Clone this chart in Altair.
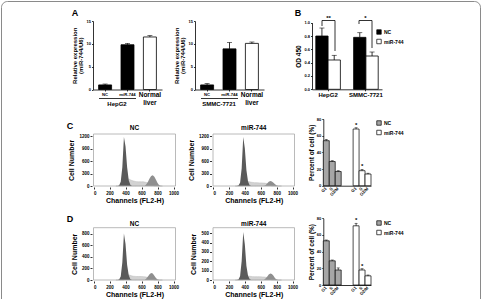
import altair as alt
import pandas as pd

W, H = 483, 299
FONT = "Liberation Sans"

# ---------------- Panel A: relative expression ----------------
a_groups = ["NC", "miR-744", "Normal"]
a_hepg2_mean = [1.0, 9.8, 11.5]
a_hepg2_err = [0.2, 0.3, 0.3]
a_smmc_mean = [1.0, 8.9, 10.1]
a_smmc_err = [0.3, 1.4, 0.3]
a_cells = ["HepG2", "SMMC-7721"]

# ---------------- Panel B: OD 450 ----------------
b_cells = ["HepG2", "SMMC-7721"]
b_treat = ["NC", "miR-744"]
b_nc_mean = [0.80, 0.78]
b_nc_err = [0.12, 0.07]
b_mir_mean = [0.44, 0.50]
b_mir_err = [0.07, 0.06]
b_sig = ["**", "*"]

# ---------------- Panels C / D: cell-cycle bars ----------------
phases = ["G1", "S", "G2/M"]
c_nc_mean = [54, 29, 17]
c_nc_err = [1.5, 1.0, 1.0]
c_mir_mean = [68, 18, 14]
c_mir_err = [1.5, 1.5, 1.0]
c_mir_sig = ["*", "*", ""]
d_nc_mean = [53, 29, 18]
d_nc_err = [1.0, 1.0, 2.5]
d_mir_mean = [71, 18, 11]
d_mir_err = [3.0, 1.5, 1.0]
d_mir_sig = ["*", "*", ""]

# ---------------- flow-cytometry histograms ----------------
channels = [280, 300, 320, 340, 360, 380, 400, 420, 440, 460, 480, 500, 520, 540, 560,
            580, 600, 620, 640, 660, 680, 700, 720, 740, 760, 780, 800, 820, 840, 860]
c_nc_g1 = [0, 0, 15, 100, 450, 1180, 950, 450, 140, 30, 0, 0, 0, 0, 0,
           0, 0, 0, 0, 0, 0, 0, 0, 0, 0, 0, 0, 0, 0, 0]
c_nc_s = [0, 0, 0, 0, 0, 0, 60, 150, 170, 150, 130, 120, 110, 105, 100,
          100, 100, 100, 95, 85, 70, 50, 30, 15, 0, 0, 0, 0, 0, 0]
c_nc_g2 = [0, 0, 0, 0, 0, 0, 0, 0, 0, 0, 0, 0, 0, 0, 0,
           0, 0, 0, 0, 40, 100, 180, 240, 260, 220, 150, 70, 20, 0, 0]
c_mir_g1 = [0, 0, 10, 80, 420, 1180, 900, 380, 110, 20, 0, 0, 0, 0, 0,
            0, 0, 0, 0, 0, 0, 0, 0, 0, 0, 0, 0, 0, 0, 0]
c_mir_s = [0, 0, 0, 0, 0, 0, 40, 110, 110, 100, 90, 85, 80, 80, 78,
           75, 75, 72, 70, 65, 60, 40, 20, 0, 0, 0, 0, 0, 0, 0]
c_mir_g2 = [0, 0, 0, 0, 0, 0, 0, 0, 0, 0, 0, 0, 0, 0, 0,
            0, 0, 0, 0, 20, 60, 100, 120, 110, 80, 40, 10, 0, 0, 0]
d_nc_g1 = [0, 0, 10, 60, 300, 800, 620, 260, 80, 15, 0, 0, 0, 0, 0,
           0, 0, 0, 0, 0, 0, 0, 0, 0, 0, 0, 0, 0, 0, 0]
d_nc_s = [0, 0, 0, 0, 0, 0, 30, 80, 90, 80, 70, 65, 62, 60, 60,
          60, 60, 58, 55, 50, 45, 35, 20, 10, 0, 0, 0, 0, 0, 0]
d_nc_g2 = [0, 0, 0, 0, 0, 0, 0, 0, 0, 0, 0, 0, 0, 0, 0,
           0, 0, 0, 0, 25, 60, 100, 120, 110, 75, 35, 10, 0, 0, 0]
d_mir_g1 = [0, 0, 5, 40, 200, 515, 380, 150, 45, 10, 0, 0, 0, 0, 0,
            0, 0, 0, 0, 0, 0, 0, 0, 0, 0, 0, 0, 0, 0, 0]
d_mir_s = [0, 0, 0, 0, 0, 0, 20, 45, 45, 40, 38, 36, 35, 35, 35,
           35, 34, 33, 32, 30, 28, 20, 10, 0, 0, 0, 0, 0, 0, 0]
d_mir_g2 = [0, 0, 0, 0, 0, 0, 0, 0, 0, 0, 0, 0, 0, 0, 0,
            0, 0, 0, 0, 15, 35, 60, 70, 65, 45, 20, 5, 0, 0, 0]
flow_xticks = [0, 200, 400, 600, 800, 1000]

EMPTY = alt.Data(values=[{}])


def axis_style(**kw):
    base = dict(grid=False, domainColor="black", tickColor="black", labelColor="black",
                titleColor="black", domainWidth=0.8, tickWidth=0.8, labelFont=FONT,
                titleFont=FONT, labelFontSize=4.5, labelFontWeight="bold",
                titleFontWeight="bold", labelOverlap=False, labelPadding=1, tickSize=2,
                labelAngle=0)
    base.update(kw)
    return alt.Axis(**base)


def txt(s, x, y, size=6.0, weight="bold", align="center", baseline="middle", angle=None,
        color="black", lh=None):
    kw = dict(text=s, fontSize=size, fontWeight=weight, font=FONT, align=align,
              baseline=baseline, color=color)
    if angle is not None:
        kw["angle"] = angle
    if lh is not None:
        kw["lineHeight"] = lh
    return alt.Chart(EMPTY).mark_text(**kw).encode(x=alt.value(x), y=alt.value(y))


def hrule(x1, x2, y, w=0.8):
    return alt.Chart(EMPTY).mark_rule(color="black", strokeWidth=w).encode(
        x=alt.value(x1), x2=alt.value(x2), y=alt.value(y))


def vrule(x, y1, y2, w=0.8):
    return alt.Chart(EMPTY).mark_rule(color="black", strokeWidth=w).encode(
        x=alt.value(x), y=alt.value(y1), y2=alt.value(y2))


# ---------------- Panel A ----------------
def panel_a(means, errs, x0, cell):
    y0, y1 = 89.5, 21
    df = pd.DataFrame({"grp": a_groups, "mean": means,
                       "top": [m + e for m, e in zip(means, errs)]})
    xsc = alt.Scale(domain=a_groups, range=[x0, x0 + 69], paddingInner=0.42, paddingOuter=0.25)
    xax = axis_style(orient="bottom", offset=y0 - H, labels=False, title=None, tickSize=1.5)
    ysc = alt.Scale(domain=[0, 15], range=[y0, y1], nice=False, zero=True)
    yax = axis_style(orient="left", offset=-x0, values=[0, 5, 10, 15],
                     title=["Relative expression", "(miR-744/U6)"], titleFontSize=6,
                     titlePadding=3, titleLineHeight=6, tickSize=1.5, labelFontSize=4)
    X = alt.X("grp:N", scale=xsc, axis=xax, sort=a_groups)
    base = alt.Chart(df)
    bars = base.mark_bar(stroke="black", strokeWidth=0.8).encode(
        x=X, y=alt.Y("mean:Q", scale=ysc, axis=yax),
        fill=alt.when(alt.datum.grp == "Normal").then(alt.value("white")).otherwise(alt.value("black")))
    err = base.mark_rule(color="black", strokeWidth=0.8).encode(
        x=X, y=alt.Y("mean:Q", scale=ysc, axis=yax), y2="top:Q")
    cap = base.mark_tick(color="black", size=5, thickness=0.8).encode(
        x=X, y=alt.Y("top:Q", scale=ysc, axis=yax))
    small = alt.Chart(pd.DataFrame({"grp": a_groups[:2]})).mark_text(
        font=FONT, fontSize=4.2, fontWeight="bold", color="black").encode(
        x=X, y=alt.value(95), text="grp:N")
    normal = alt.Chart(pd.DataFrame({"grp": a_groups[2:]})).mark_text(
        font=FONT, fontSize=6.5, fontWeight="bold", color="black", text=["Normal", "liver"],
        lineHeight=8, baseline="top").encode(x=X, y=alt.value(91.5))
    main = alt.layer(bars, err, cap, small, normal)
    return [main, hrule(x0 + 6, x0 + 43, 98.5), txt(cell, x0 + 24, 103.5, size=6)]


# ---------------- Panel B ----------------
def panel_b():
    x0, x1, y0, y1 = 312, 382, 89.3, 22.7
    rows = []
    for i, c in enumerate(b_cells):
        rows.append({"cell": c, "treat": "NC", "mean": b_nc_mean[i], "top": b_nc_mean[i] + b_nc_err[i]})
        rows.append({"cell": c, "treat": "miR-744", "mean": b_mir_mean[i], "top": b_mir_mean[i] + b_mir_err[i]})
    df = pd.DataFrame(rows)
    xsc = alt.Scale(domain=b_cells, range=[x0, x1], paddingInner=0.35, paddingOuter=0.1)
    xax = axis_style(orient="bottom", offset=y0 - H, title=None, labelFontSize=6,
                     tickSize=1.5, labelPadding=0.5)
    ysc = alt.Scale(domain=[0, 1.0], range=[y0, y1], nice=False, zero=True)
    yax = axis_style(orient="left", offset=-x0, values=[0, 0.2, 0.4, 0.6, 0.8, 1.0], format=".1f",
                     title="OD 450", titleFontSize=6.5, titlePadding=2, tickSize=1.5, labelFontSize=4)
    X = alt.X("cell:N", scale=xsc, axis=xax, sort=b_cells)
    XO = alt.XOffset("treat:N", scale=alt.Scale(domain=b_treat), sort=b_treat)
    base = alt.Chart(df)
    bars = base.mark_bar(stroke="black", strokeWidth=0.8).encode(
        x=X, xOffset=XO, y=alt.Y("mean:Q", scale=ysc, axis=yax),
        color=alt.Color("treat:N", scale=alt.Scale(domain=b_treat, range=["black", "white"]),
                        legend=alt.Legend(orient="none", legendX=376, legendY=29, title=None,
                                          symbolType="square", symbolSize=20,
                                          symbolStrokeColor="black", symbolStrokeWidth=0.7,
                                          labelFont=FONT, labelFontSize=5, labelFontWeight="bold",
                                          labelOffset=2, rowPadding=1.5, padding=0)))
    err = base.mark_rule(color="black", strokeWidth=0.8).encode(
        x=X, xOffset=XO, y=alt.Y("mean:Q", scale=ysc, axis=yax), y2="top:Q")
    cap = base.mark_tick(color="black", size=5, thickness=0.8).encode(
        x=X, xOffset=XO, y=alt.Y("top:Q", scale=ysc, axis=yax))
    main = alt.layer(bars, err, cap)
    ann = [
        hrule(322, 335, 20.5), vrule(322, 20.5, 26), vrule(335, 20.5, 51),
        txt(b_sig[0], 328.5, 18, size=6),
        hrule(359, 372, 20.5), vrule(359, 20.5, 24), vrule(372, 20.5, 48),
        txt(b_sig[1], 365.5, 18, size=6),
    ]
    return [main] + ann


# ---------------- Panels C / D bars ----------------
def panel_cycle(nc_mean, nc_err, mir_mean, mir_err, mir_sig, y0, y1, legend_y):
    x0, x1 = 323.3, 371
    rows = []
    for i, p in enumerate(phases):
        rows.append({"treat": "NC", "phase": p, "mean": nc_mean[i], "top": nc_mean[i] + nc_err[i], "sig": ""})
    for i, p in enumerate(phases):
        rows.append({"treat": "miR-744", "phase": p, "mean": mir_mean[i], "top": mir_mean[i] + mir_err[i], "sig": mir_sig[i]})
    df = pd.DataFrame(rows)
    xsc = alt.Scale(domain=b_treat, range=[x0, x1], paddingInner=0.4, paddingOuter=0.0)
    xax = axis_style(orient="bottom", offset=y0 - H, title=None, labels=False, ticks=False)
    ysc = alt.Scale(domain=[0, 80], range=[y0, y1], nice=False, zero=True)
    yax = axis_style(orient="left", offset=-x0, values=[0, 20, 40, 60, 80],
                     title="Percent of cell (%)", titleFontSize=6.5, titlePadding=2,
                     tickSize=1.5, labelFontSize=4)
    X = alt.X("treat:N", scale=xsc, axis=xax, sort=b_treat)
    XO = alt.XOffset("phase:N", scale=alt.Scale(domain=phases), sort=phases)
    base = alt.Chart(df)
    bars = base.mark_bar(stroke="black", strokeWidth=0.7).encode(
        x=X, xOffset=XO, y=alt.Y("mean:Q", scale=ysc, axis=yax),
        color=alt.Color("treat:N", scale=alt.Scale(domain=b_treat, range=["#a6a6a6", "white"]),
                        legend=alt.Legend(orient="none", legendX=376, legendY=legend_y, title=None,
                                          symbolType="square", symbolSize=20,
                                          symbolStrokeColor="black", symbolStrokeWidth=0.7,
                                          labelFont=FONT, labelFontSize=5, labelFontWeight="bold",
                                          labelOffset=2, rowPadding=1.5, padding=0)))
    err = base.mark_rule(color="black", strokeWidth=0.7).encode(
        x=X, xOffset=XO, y=alt.Y("mean:Q", scale=ysc, axis=yax), y2="top:Q")
    cap = base.mark_tick(color="black", size=3, thickness=0.7).encode(
        x=X, xOffset=XO, y=alt.Y("top:Q", scale=ysc, axis=yax))
    sig = base.mark_text(font=FONT, fontSize=6, fontWeight="bold", color="black", dy=-3).encode(
        x=X, xOffset=XO, y=alt.Y("top:Q", scale=ysc, axis=yax), text="sig:N")
    lab = base.mark_text(font=FONT, fontSize=4.2, fontWeight="bold", color="black",
                         angle=315, align="right", baseline="middle").encode(
        x=X, xOffset=XO, y=alt.value(y0 + 2.5), text="phase:N")
    return [alt.layer(bars, err, cap, sig, lab)]


# ---------------- flow histograms ----------------
def flow(g1, s, g2, ymax, yticks, xr, yr, title, title_y):
    df = pd.DataFrame({"ch": channels, "g1": g1, "s": s, "g2": g2})
    xsc = alt.Scale(domain=[0, 1024], range=xr, nice=False, zero=True)
    ysc = alt.Scale(domain=[0, ymax], range=yr, nice=False, zero=True)
    xax = axis_style(orient="bottom", offset=yr[0] + 1 - H, values=flow_xticks, domain=False,
                     format="d", title="Channels (FL2-H)", titleFontSize=7, titlePadding=1.5)
    yax = axis_style(orient="left", offset=-(xr[0] - 1.5), values=yticks, domain=False,
                     format="d", title="Cell Number", titleFontSize=7, titlePadding=4)
    X = alt.X("ch:Q", scale=xsc, axis=xax)
    base = alt.Chart(df)
    a_s = base.mark_area(color="#d2d2d2", stroke="#b8b8b8", strokeWidth=0.5).encode(
        x=X, y=alt.Y("s:Q", scale=ysc, axis=yax))
    a_g2 = base.mark_area(color="#8f8f8f").encode(x=X, y=alt.Y("g2:Q", scale=ysc, axis=yax))
    a_g1 = base.mark_area(color="#5a5a5a").encode(x=X, y=alt.Y("g1:Q", scale=ysc, axis=yax))
    box = alt.Chart(EMPTY).mark_rect(filled=False, stroke="#a8a8a8", strokeWidth=0.8).encode(
        x=alt.X(datum=0, type="quantitative", scale=xsc, axis=xax),
        x2=alt.X2(datum=1024),
        y=alt.Y(datum=0, type="quantitative", scale=ysc, axis=yax),
        y2=alt.Y2(datum=ymax))
    main = alt.layer(a_s, a_g2, a_g1, box)
    return [main, txt(title, (xr[0] + xr[1]) / 2, title_y, size=6.5)]


layers = []
# frame
layers.append(alt.Chart(EMPTY).mark_rect(filled=False, stroke="#8a8a8a", strokeWidth=1,
                                         cornerRadius=6).encode(
    x=alt.value(1.5), x2=alt.value(480.5), y=alt.value(1.5), y2=alt.value(330)))
# letters
layers += [txt("A", 75, 12.5, size=9), txt("B", 298, 12.5, size=9),
           txt("C", 70, 126, size=9), txt("D", 70, 218.5, size=9)]

layers += panel_a(a_hepg2_mean, a_hepg2_err, 93, a_cells[0])
layers += panel_a(a_smmc_mean, a_smmc_err, 195, a_cells[1])
layers += panel_b()

layers += flow(c_nc_g1, c_nc_s, c_nc_g2, 1250, [0, 300, 600, 900, 1200],
               [93.5, 175.5], [186, 134], "NC", 127.5)
layers += flow(c_mir_g1, c_mir_s, c_mir_g2, 1250, [0, 300, 600, 900, 1200],
               [213, 294.5], [186, 134], "miR-744", 127.5)
layers += panel_cycle(c_nc_mean, c_nc_err, c_mir_mean, c_mir_err, c_mir_sig, 185.7, 119, 120)

layers += flow(d_nc_g1, d_nc_s, d_nc_g2, 900, [0, 200, 400, 600, 800],
               [93.5, 175.5], [280, 227.7], "NC", 223.5)
layers += flow(d_mir_g1, d_mir_s, d_mir_g2, 560, [0, 100, 200, 300, 400, 500],
               [213, 294.5], [280, 227.7], "miR-744", 223.5)
layers += panel_cycle(d_nc_mean, d_nc_err, d_mir_mean, d_mir_err, d_mir_sig, 285, 218.3, 220)

chart = alt.layer(*layers).resolve_scale(
    x="independent", y="independent", color="independent", xOffset="independent"
).properties(
    width=W, height=H, autosize=alt.AutoSizeParams(type="none"), padding=0,
    background="white"
).configure_view(strokeWidth=0)

chart.save("out.html", embed_options={"renderer": "svg", "actions": False})
